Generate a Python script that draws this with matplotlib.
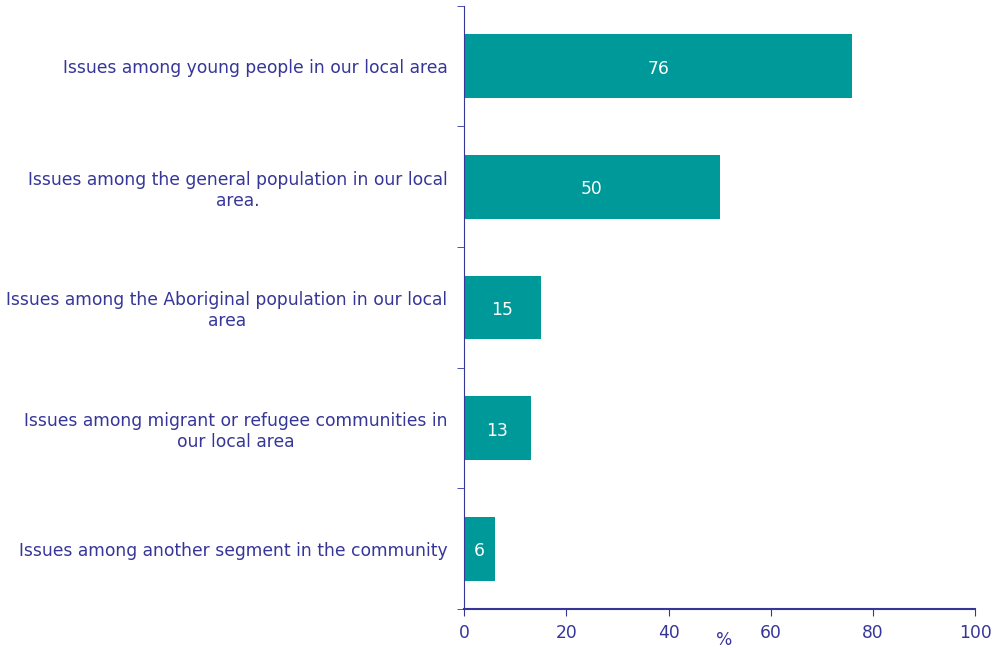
import matplotlib.pyplot as plt

categories = [
    "Issues among young people in our local area",
    "Issues among the general population in our local\narea.",
    "Issues among the Aboriginal population in our local\narea",
    "Issues among migrant or refugee communities in\nour local area",
    "Issues among another segment in the community",
]
values = [76, 50, 15, 13, 6]
xticks = [0, 20, 40, 60, 80, 100]

bar_color = "#009999"
text_color = "#363699"

fig = plt.figure(figsize=(9.96, 6.48), dpi=100)
ax = fig.add_axes([0.466, 0.060, 0.513, 0.931])

pos = list(range(len(categories)))
bars = ax.barh(pos, values, height=0.53, color=bar_color)
ax.set_ylim(4.5, -0.5)
ax.set_xlim(0, 100)

for b, v in zip(bars, values):
    ax.text(b.get_width() / 2, b.get_y() + b.get_height() / 2 + 0.02, str(v),
            ha="center", va="center", color="white", fontsize=12.3)

# category labels, ticks sit between the bars
ax.set_yticks(pos)
ax.set_yticklabels(categories, fontsize=12.3, color=text_color, multialignment="center")
ax.tick_params(axis="y", length=0, pad=12)
ax.set_yticks([p - 0.5 for p in pos] + [4.5], minor=True)
ax.tick_params(axis="y", which="minor", length=5, direction="out", color=text_color)

ax.set_xticks(xticks)
ax.tick_params(axis="x", length=5, direction="out", color=text_color,
               labelcolor=text_color, labelsize=12.3, pad=6)
ax.text(0.509, -0.052, "%", transform=ax.transAxes, ha="center", va="center",
        color=text_color, fontsize=12.3)

for s in ["top", "right"]:
    ax.spines[s].set_visible(False)
for s in ["left", "bottom"]:
    ax.spines[s].set_color(text_color)
ax.spines["bottom"].set_linewidth(1.5)

fig.savefig("out.png", dpi=100)
